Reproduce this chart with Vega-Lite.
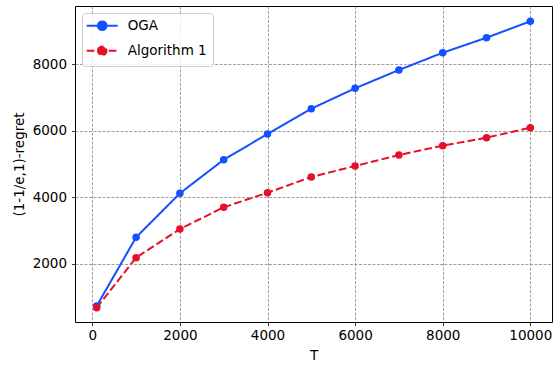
{
  "$schema": "https://vega.github.io/schema/vega-lite/v6.json",
  "width": 477,
  "height": 316,
  "autosize": "none",
  "padding": {"left": 75, "top": 6, "right": 3, "bottom": 47},
  "background": "white",
  "config": {
    "font": "DejaVu Sans",
    "view": {"stroke": "black", "strokeWidth": 1},
    "axis": {
      "domain": false,
      "grid": true,
      "gridColor": "#888888",
      "gridDash": [3, 1.5],
      "gridWidth": 0.8,
      "tickColor": "black",
      "tickSize": 3.5,
      "tickWidth": 0.8,
      "labelFontSize": 13.5,
      "labelColor": "black",
      "labelFont": "DejaVu Sans",
      "titleFontSize": 13.5,
      "titleFontWeight": "normal",
      "titleColor": "black",
      "titleFont": "DejaVu Sans"
    },
    "axisX": {"labelPadding": 3, "titlePadding": 6},
    "axisY": {"labelPadding": 5, "titlePadding": 6},
    "legend": {
      "orient": "top-left",
      "offset": 7,
      "padding": 6,
      "fillColor": "rgba(255,255,255,0.8)",
      "strokeColor": "#cccccc",
      "cornerRadius": 3,
      "labelFontSize": 13.5,
      "labelColor": "black",
      "labelFont": "DejaVu Sans",
      "symbolType": "M-1.61,0L4.59,0M0.63,0A0.86,0.86 0 1,1 2.35,0A0.86,0.86 0 1,1 0.63,0Z",
      "symbolSize": 100,
      "symbolStrokeWidth": 2,
      "labelOffset": 26.2,
      "rowPadding": 7.1
    }
  },
  "data": {
    "values": [
      {"T": 100, "value": 739, "series": "OGA"},
      {"T": 1000, "value": 2802, "series": "OGA"},
      {"T": 2000, "value": 4123, "series": "OGA"},
      {"T": 3000, "value": 5132, "series": "OGA"},
      {"T": 4000, "value": 5904, "series": "OGA"},
      {"T": 5000, "value": 6664, "series": "OGA"},
      {"T": 6000, "value": 7276, "series": "OGA"},
      {"T": 7000, "value": 7826, "series": "OGA"},
      {"T": 8000, "value": 8345, "series": "OGA"},
      {"T": 9000, "value": 8796, "series": "OGA"},
      {"T": 10000, "value": 9288, "series": "OGA"},
      {"T": 100, "value": 688, "series": "Algorithm 1"},
      {"T": 1000, "value": 2190, "series": "Algorithm 1"},
      {"T": 2000, "value": 3051, "series": "Algorithm 1"},
      {"T": 3000, "value": 3703, "series": "Algorithm 1"},
      {"T": 4000, "value": 4141, "series": "Algorithm 1"},
      {"T": 5000, "value": 4613, "series": "Algorithm 1"},
      {"T": 6000, "value": 4943, "series": "Algorithm 1"},
      {"T": 7000, "value": 5273, "series": "Algorithm 1"},
      {"T": 8000, "value": 5553, "series": "Algorithm 1"},
      {"T": 9000, "value": 5793, "series": "Algorithm 1"},
      {"T": 10000, "value": 6093, "series": "Algorithm 1"}
    ]
  },
  "encoding": {
    "x": {
      "field": "T",
      "type": "quantitative",
      "scale": {"domain": [-395, 10495], "nice": false, "zero": false},
      "axis": {"values": [0, 2000, 4000, 6000, 8000, 10000], "title": "T", "format": "d"}
    },
    "y": {
      "field": "value",
      "type": "quantitative",
      "scale": {"domain": [258, 9748], "nice": false, "zero": false},
      "axis": {"values": [2000, 4000, 6000, 8000], "title": "(1-1/e,1)-regret", "format": "d"}
    },
    "color": {
      "field": "series",
      "type": "nominal",
      "scale": {"domain": ["OGA", "Algorithm 1"], "range": ["#1450ff", "#e6102b"]},
      "legend": {
        "title": null,
        "encode": {
          "symbols": {
            "update": {
              "fill": {"scale": "color", "field": "value"},
              "stroke": {"scale": "color", "field": "value"}
            }
          }
        }
      }
    }
  },
  "layer": [
    {
      "mark": {"type": "line", "strokeWidth": 2},
      "encoding": {
        "strokeDash": {
          "field": "series",
          "type": "nominal",
          "scale": {"domain": ["OGA", "Algorithm 1"], "range": [[1, 0], [7.7, 3.3]]},
          "legend": {"title": null}
        }
      }
    },
    {
      "mark": {"type": "point", "filled": true, "size": 57, "opacity": 1}
    }
  ]
}
